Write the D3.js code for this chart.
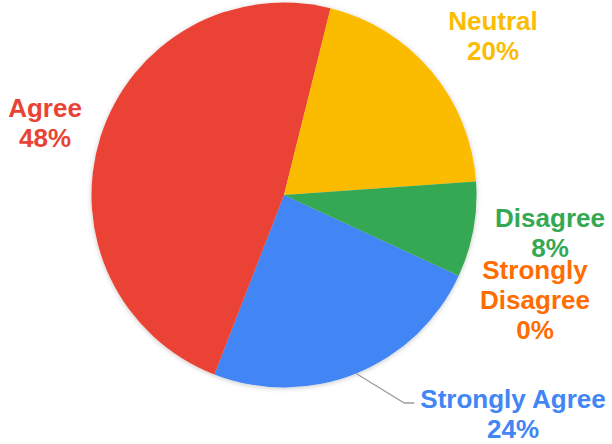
<!DOCTYPE html>
<html>
<head>
<meta charset="utf-8">
<script src="https://cdn.jsdelivr.net/npm/d3@7"></script>
<style>
  html, body { margin: 0; padding: 0; background: #fff; }
  svg { display: block; }
  text { font-family: "Liberation Sans", Arial, Helvetica, sans-serif; font-weight: bold; }
</style>
</head>
<body>
<svg id="chart" width="612" height="444"></svg>
<script>
// Survey responses
const categories = ["Strongly Agree", "Agree", "Neutral", "Disagree", "Strongly Disagree"];
const percents = [24, 48, 20, 8, 0];
const colors = ["#4285F4", "#EA4335", "#FBBC04", "#34A853", "#FF6D01"];

const W = 612, H = 444;
const cx = 284, cy = 195, radius = 192.5;
const fontSize = 26, lineGap = 30;

// Slices run clockwise in category order, rotated so "Neutral" begins just right of 12 o'clock
const startDeg = 114.8;
const startAngle = startDeg * Math.PI / 180;

const svg = d3.select("#chart");

const defs = svg.append("defs");
const shadow = defs.append("filter").attr("id", "pieShadow")
  .attr("x", "-10%").attr("y", "-10%").attr("width", "120%").attr("height", "120%");
shadow.append("feDropShadow")
  .attr("dx", 0).attr("dy", 1).attr("stdDeviation", 2.5)
  .attr("flood-color", "#000").attr("flood-opacity", 0.22);

const data = categories.map((c, i) => ({ name: c, value: percents[i], color: colors[i] }));

const pie = d3.pie().sort(null).value(d => d.value)
  .startAngle(startAngle).endAngle(startAngle + 2 * Math.PI);
const arcs = pie(data);

const arc = d3.arc().innerRadius(0).outerRadius(radius);

const g = svg.append("g").attr("transform", `translate(${cx},${cy})`);

g.append("g").attr("filter", "url(#pieShadow)")
  .selectAll("path")
  .data(arcs.filter(a => a.value > 0))
  .join("path")
  .attr("d", arc)
  .attr("fill", d => d.data.color);

// Label layout: text anchor (centre of block) and first baseline
const labelLayout = {
  "Agree":             { x: 45,  y: 117, lines: ["Agree"] },
  "Neutral":           { x: 493, y: 30,  lines: ["Neutral"] },
  "Disagree":          { x: 550, y: 227, lines: ["Disagree"] },
  "Strongly Disagree": { x: 535, y: 279, lines: ["Strongly", "Disagree"] },
  "Strongly Agree":    { x: 513, y: 408, lines: ["Strongly Agree"], leader: true }
};

const fmt = v => `${v}%`;

arcs.forEach(a => {
  const L = labelLayout[a.data.name];
  const lines = L.lines.concat([fmt(a.data.value)]);
  const t = svg.append("text")
    .attr("text-anchor", "middle")
    .attr("font-size", fontSize)
    .attr("fill", a.data.color);
  lines.forEach((s, i) => {
    t.append("tspan").attr("x", L.x).attr("y", L.y + i * lineGap).text(s);
  });

  if (L.leader) {
    // leader from the slice's mid-arc point to the left edge of the label
    const mid = (a.startAngle + a.endAngle) / 2;
    const px = cx + radius * Math.sin(mid);
    const py = cy - radius * Math.cos(mid);
    const bbox = t.node().getBBox();
    const ly = L.y - 5;
    const endX = bbox.x - 6;
    svg.insert("path", "text")
      .attr("d", d3.line()([[px, py], [endX - 10, ly], [endX, ly]]))
      .attr("fill", "none")
      .attr("stroke", "#9e9e9e")
      .attr("stroke-width", 1.3);
  }
});
</script>
</body>
</html>
